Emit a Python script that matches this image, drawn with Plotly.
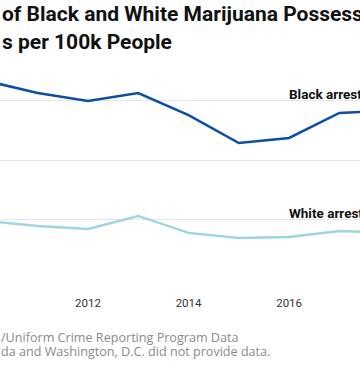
import plotly.graph_objects as go

years = [2010, 2011, 2012, 2013, 2014, 2015, 2016, 2017, 2018]
black_rate = [665, 625, 598, 625, 551, 457, 474, 558, 566]
white_rate = [195, 178, 168, 212, 155, 138, 141, 161, 156]
y_ticks = [0, 200, 400, 600]
x_ticks = [2010, 2012, 2014, 2016, 2018]
title_lines = ["of Black and White Marijuana Possession", "s per 100k People"]
source_lines = ["/Uniform Crime Reporting Program Data",
                "da and Washington, D.C. did not provide data."]
series_labels = ["Black arrests", "White arrests"]

BLACK_C = "#0b4ea2"
WHITE_C = "#9dd6e0"
FONT = "Roboto"

fig = go.Figure()
fig.add_trace(go.Scatter(x=years, y=black_rate, mode="lines",
                         line=dict(color=BLACK_C, width=2.5), hoverinfo="skip"))
fig.add_trace(go.Scatter(x=years, y=white_rate, mode="lines",
                         line=dict(color=WHITE_C, width=2.5), hoverinfo="skip"))

W, H = 360, 367
top, bottom = 41, 279

fig.update_layout(
    width=W, height=H,
    margin=dict(l=0, r=0, t=top, b=H - bottom, pad=0),
    paper_bgcolor="white", plot_bgcolor="white",
    showlegend=False,
    font=dict(family=FONT, color="#333333"),
    xaxis=dict(range=[2010.25, 2017.41], tickvals=x_ticks, ticktext=[str(v) for v in x_ticks],
               showgrid=False, zeroline=False, showline=False,
               ticks="outside", ticklen=13, tickcolor="rgba(0,0,0,0)",
               tickfont=dict(size=11.5, color="#333333", family=FONT)),
    yaxis=dict(range=[0, 800], tickvals=y_ticks, showgrid=True, gridcolor="#e6e6e6",
               gridwidth=1, zeroline=False, showline=False, showticklabels=False),
)

ann = []
for i, t in enumerate(title_lines):
    ann.append(dict(text="<b>" + t + "</b>", xref="paper", yref="paper",
                    x=0, xshift=0, y=1, yshift=(top - [14, 42][i]),
                    xanchor="left", yanchor="middle", showarrow=False,
                    font=dict(size=21, color="#111111", family=FONT)))
for i, t in enumerate(source_lines):
    ann.append(dict(text=t, xref="paper", yref="paper",
                    x=0, y=0, yshift=-([337, 351][i] - bottom),
                    xanchor="left", yanchor="middle", showarrow=False, borderpad=0,
                    font=dict(size=12.6, color="#8a8a8a", family="Open Sans")))
ann.append(dict(text="<b>" + series_labels[0] + "</b>", x=2016.0, y=622, xref="x", yref="y",
                xanchor="left", yanchor="middle", showarrow=False, xshift=-2,
                font=dict(size=13.5, color="#111111", family=FONT)))
ann.append(dict(text="<b>" + series_labels[1] + "</b>", x=2016.0, y=222, xref="x", yref="y",
                xanchor="left", yanchor="middle", showarrow=False, xshift=-2,
                font=dict(size=13.5, color="#111111", family=FONT)))
fig.update_layout(annotations=ann)

fig.write_html("out.html", config={"displayModeBar": False},
               post_script="document.body.style.margin='0';document.body.style.overflow='hidden';")
